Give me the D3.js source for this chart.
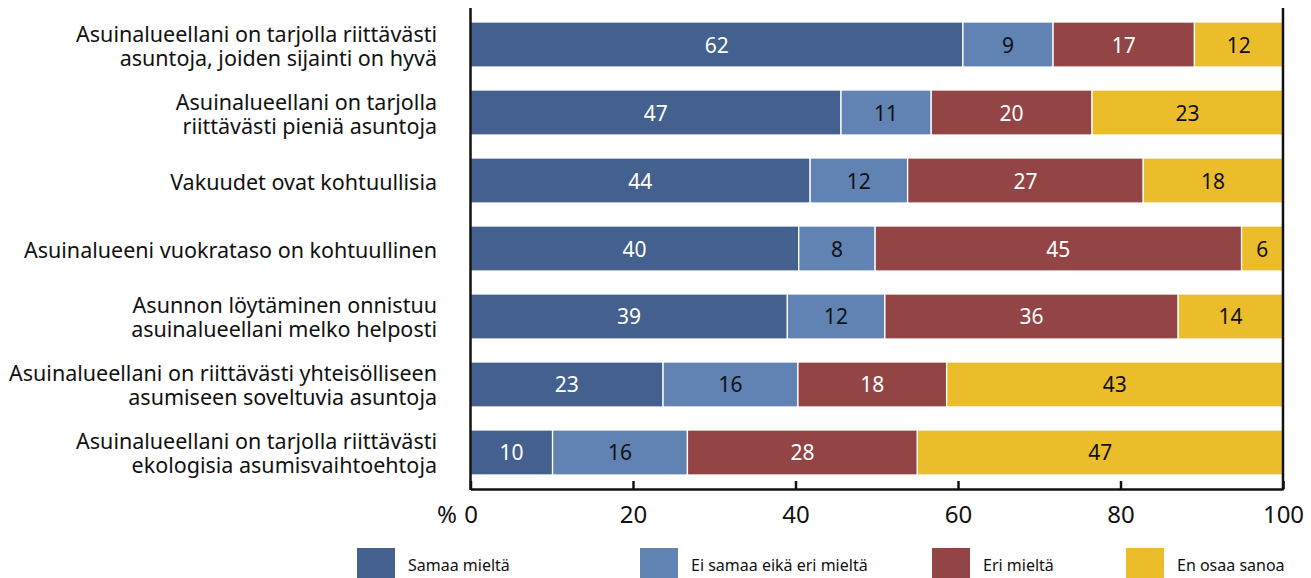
<!DOCTYPE html>
<html>
<head>
<meta charset="utf-8">
<script src="https://cdn.jsdelivr.net/npm/d3@7"></script>
<style>
  body { margin: 0; background: #fff; }
  svg { display: block; font-family: "Noto Sans", sans-serif; }
</style>
</head>
<body>
<div id="chart"></div>
<script>
// statements (label lines)
const categories = [
  ["Asuinalueellani on tarjolla riittävästi", "asuntoja, joiden sijainti on hyvä"],
  ["Asuinalueellani on tarjolla", "riittävästi pieniä asuntoja"],
  ["Vakuudet ovat kohtuullisia"],
  ["Asuinalueeni vuokrataso on kohtuullinen"],
  ["Asunnon löytäminen onnistuu", "asuinalueellani melko helposti"],
  ["Asuinalueellani on riittävästi yhteisölliseen", "asumiseen soveltuvia asuntoja"],
  ["Asuinalueellani on tarjolla riittävästi", "ekologisia asumisvaihtoehtoja"]
];

const seriesNames = ["Samaa mieltä", "Ei samaa eikä eri mieltä", "Eri mieltä", "En osaa sanoa"];

// printed (rounded) values
const samaa = [62, 47, 44, 40, 39, 23, 10];
const neutral = [9, 11, 12, 8, 12, 16, 16];
const eri = [17, 20, 27, 45, 36, 18, 28];
const enOsaa = [12, 23, 18, 6, 14, 43, 47];

// bar lengths as drawn (they don't match the labels exactly)
const samaaW = [60.6, 45.6, 41.8, 40.4, 39.0, 23.7, 10.1];
const neutralW = [11.1, 11.1, 12.0, 9.4, 12.0, 16.6, 16.6];
const eriW = [17.4, 19.8, 29.0, 45.1, 36.1, 18.3, 28.3];
const enOsaaW = [10.9, 23.5, 17.2, 5.1, 12.9, 41.4, 45.0];

const xTicks = [0, 20, 40, 60, 80, 100];

const colors = ["#44608e", "#6083b4", "#934545", "#ebbd2b"];
const textColors = ["#fff", "#111", "#fff", "#111"];

const width = 1311;
const height = 578;

const svg = d3.select("#chart").append("svg")
  .attr("width", width)
  .attr("height", height);

const x = d3.scaleLinear().domain([0, 100]).range([470.5, 1283]);
const y = d3.scaleBand()
  .domain(categories.map((d, i) => i))
  .range([8, 489])
  .paddingInner(0.338)
  .paddingOuter(0.206);

const labels = [samaa, neutral, eri, enOsaa];
const widths = [samaaW, neutralW, eriW, enOsaaW];

const rows = categories.map((c, i) => {
  let acc = 0;
  return seriesNames.map((s, k) => {
    const seg = { row: i, k: k, x0: acc, x1: acc + widths[k][i], label: labels[k][i] };
    acc += widths[k][i];
    return seg;
  });
});
const segs = rows.flat();

svg.append("g")
  .selectAll("rect")
  .data(segs)
  .join("rect")
  .attr("x", d => x(d.x0))
  .attr("y", d => y(d.row))
  .attr("width", d => x(d.x1) - x(d.x0))
  .attr("height", y.bandwidth())
  .attr("fill", d => colors[d.k])
  .attr("stroke", "#fff")
  .attr("stroke-width", 1.3);

svg.append("g")
  .selectAll("text")
  .data(segs)
  .join("text")
  .attr("x", d => (x(d.x0) + x(d.x1)) / 2)
  .attr("y", d => y(d.row) + y.bandwidth() / 2)
  .attr("text-anchor", "middle")
  .attr("dominant-baseline", "central")
  .attr("fill", d => textColors[d.k])
  .style("font-size", "21px")
  .text(d => d.label);

// category labels
const cat = svg.append("g")
  .selectAll("text")
  .data(categories)
  .join("text")
  .attr("text-anchor", "end")
  .attr("x", 437)
  .attr("y", (d, i) => y(i) + y.bandwidth() / 2)
  .attr("dominant-baseline", "central")
  .style("font-size", "21.5px")
  .attr("fill", "#111");

cat.selectAll("tspan")
  .data(d => d.map((line, j) => ({ line, j, n: d.length })))
  .join("tspan")
  .attr("x", 437)
  .attr("dy", d => d.j === 0 ? (-(d.n - 1) * 24 / 2) + "px" : "24px")
  .text(d => d.line);

// axes
const xAxis = svg.append("g")
  .attr("transform", `translate(0,489)`)
  .call(d3.axisBottom(x).tickValues(xTicks).tickSize(-8).tickSizeOuter(0).tickPadding(17));

xAxis.select(".domain").attr("stroke", "#111").attr("stroke-width", 2.5);
xAxis.selectAll(".tick line").attr("stroke", "#111").attr("stroke-width", 2.5);
xAxis.selectAll(".tick text")
  .attr("fill", "#111")
  .style("font-size", "24px")
  .style("font-family", "Noto Sans, sans-serif");

svg.selectAll(".frame")
  .data([0, 100])
  .join("line")
  .attr("x1", d => x(d))
  .attr("x2", d => x(d))
  .attr("y1", 8)
  .attr("y2", 490)
  .attr("stroke", "#111")
  .attr("stroke-width", 2.5);

svg.append("text")
  .attr("x", 457)
  .attr("y", 489 + 17)
  .attr("dy", "0.71em")
  .attr("text-anchor", "end")
  .style("font-size", "24px")
  .attr("fill", "#111")
  .text("%");

// legend
const legendX = [357, 640, 932, 1126];
const legend = svg.append("g")
  .selectAll("g")
  .data(seriesNames)
  .join("g")
  .attr("transform", (d, i) => `translate(${legendX[i]},548)`);

legend.append("rect")
  .attr("width", 38)
  .attr("height", 38)
  .attr("fill", (d, i) => colors[i]);

legend.append("text")
  .attr("x", 51)
  .attr("y", 17)
  .attr("dominant-baseline", "central")
  .style("font-size", "16px")
  .attr("fill", "#111")
  .text(d => d);
</script>
</body>
</html>
